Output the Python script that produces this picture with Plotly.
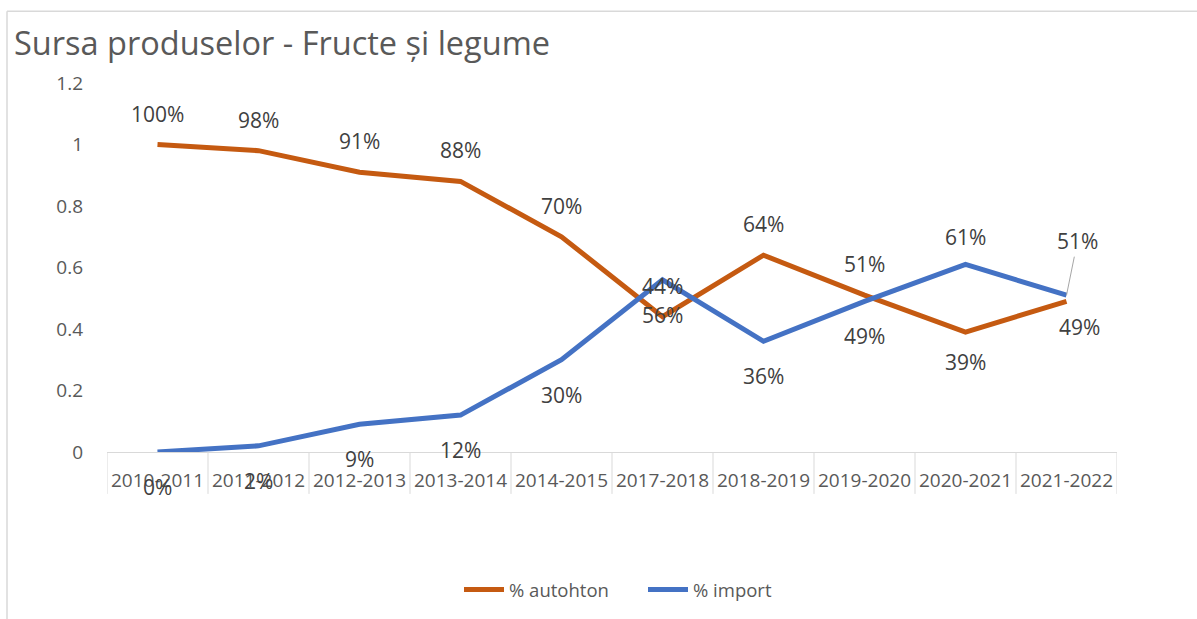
import plotly.graph_objects as go

# ---- data ----
categories = ["2010-2011", "2011-2012", "2012-2013", "2013-2014", "2014-2015",
              "2017-2018", "2018-2019", "2019-2020", "2020-2021", "2021-2022"]
autohton = [1.00, 0.98, 0.91, 0.88, 0.70, 0.44, 0.64, 0.51, 0.39, 0.49]
import_ = [0.00, 0.02, 0.09, 0.12, 0.30, 0.56, 0.36, 0.49, 0.61, 0.51]
y_ticks = [0, 0.2, 0.4, 0.6, 0.8, 1, 1.2]
y_tick_text = ["0", "0.2", "0.4", "0.6", "0.8", "1", "1.2"]

# ---- styles ----
ORANGE = "#C55A11"
BLUE = "#4472C4"
AXIS_TXT = "#595959"
LABEL_TXT = "#404040"
GRID = "#D9D9D9"
FONT = "Open Sans"

# label pixel offsets (x, y) relative to each point; negative y = above
auto_off = [(0, -31)] * 8 + [(0, 30), (13, 26)]
imp_off = [(0, 35)] * 8 + [(0, -27), None]

fig = go.Figure()
fig.add_trace(go.Scatter(x=categories, y=autohton, mode="lines", name="% autohton",
                         line=dict(color=ORANGE, width=5)))
fig.add_trace(go.Scatter(x=categories, y=import_, mode="lines", name="% import",
                         line=dict(color=BLUE, width=5)))

annotations = []
for series, offs in ((autohton, auto_off), (import_, imp_off)):
    for c, v, off in zip(categories, series, offs):
        txt = f"{round(v * 100)}%"
        if off is None:
            annotations.append(dict(x=c, y=v, xref="x", yref="y", text=txt,
                                    showarrow=True, arrowhead=0, arrowwidth=1,
                                    arrowcolor="#A6A6A6", ax=11, ay=-54,
                                    standoff=0,
                                    font=dict(family=FONT, size=21, color=LABEL_TXT)))
        else:
            annotations.append(dict(x=c, y=v, xref="x", yref="y", text=txt,
                                    showarrow=False, xshift=off[0], yshift=-off[1],
                                    font=dict(family=FONT, size=21, color=LABEL_TXT)))

shapes = []
# category divider lines below the axis
for i in range(len(categories) + 1):
    shapes.append(dict(type="line", xref="x", yref="paper", x0=i - 0.5, x1=i - 0.5,
                       y0=0, y1=-42 / 370, line=dict(color=GRID, width=1)))
# chart border (left + top)
shapes.append(dict(type="line", xref="paper", yref="paper", x0=-100 / 1010, x1=-100 / 1010,
                   y0=(453 - 11) / 370, y1=(453 - 625) / 370, line=dict(color=GRID, width=1.5)))
shapes.append(dict(type="line", xref="paper", yref="paper", x0=-100 / 1010, x1=1.2,
                   y0=(453 - 11) / 370, y1=(453 - 11) / 370, line=dict(color=GRID, width=1.5)))

fig.update_layout(
    width=1197, height=619,
    margin=dict(l=107, r=80, t=83, b=166),
    paper_bgcolor="white", plot_bgcolor="white",
    font=dict(family=FONT, color=AXIS_TXT),
    title=dict(text="Sursa produselor - Fructe și legume", xref="container", yref="container",
               x=14 / 1197, xanchor="left", y=1 - 44 / 619, yanchor="middle",
               font=dict(family=FONT, size=32.5, color=AXIS_TXT)),
    xaxis=dict(type="category", range=[-0.5, len(categories) - 0.5], showgrid=False,
               showline=True, linecolor=GRID, linewidth=1, ticks="",
               ticklabelstandoff=11, tickfont=dict(family=FONT, size=19, color=AXIS_TXT),
               zeroline=False, fixedrange=True),
    yaxis=dict(range=[0, 1.2], tickvals=y_ticks, ticktext=y_tick_text, showgrid=False,
               showline=False, zeroline=False, ticks="", ticklabelstandoff=23,
               tickfont=dict(family=FONT, size=19, color=AXIS_TXT)),
    legend=dict(orientation="h", x=(459 - 107) / 1010, xanchor="left", y=(453 - 590) / 370,
                yanchor="middle", font=dict(family=FONT, size=18.5, color=AXIS_TXT),
                itemwidth=40, entrywidth=129, entrywidthmode="pixels"),
    annotations=annotations,
    shapes=shapes,
)

fig.write_html("out.html", config={"displayModeBar": False},
               post_script="document.body.style.margin='0';document.body.style.overflow='hidden';")
